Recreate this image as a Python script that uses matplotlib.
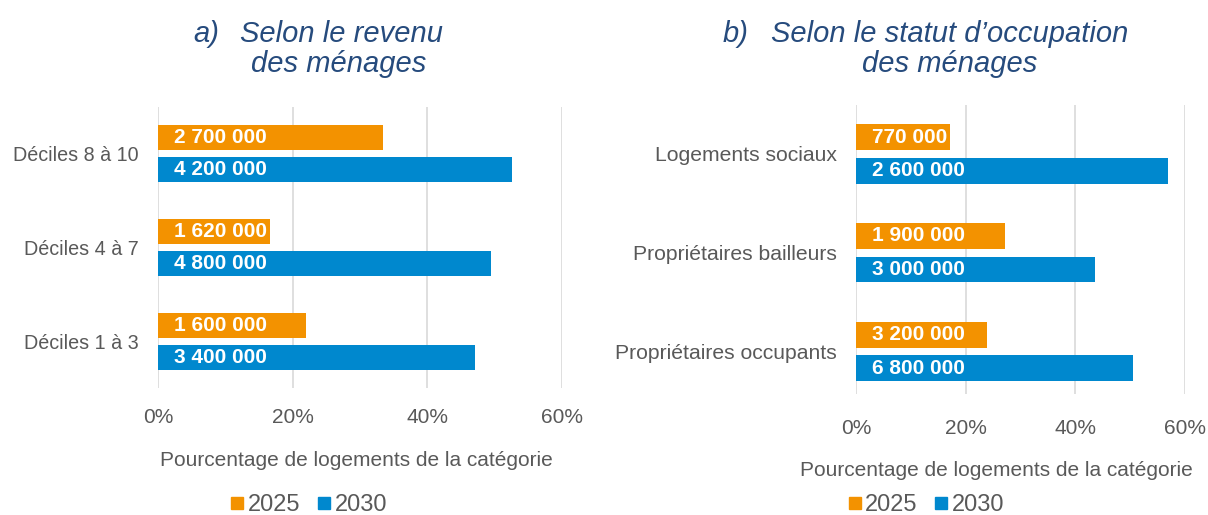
import matplotlib
matplotlib.use("Agg")
import matplotlib.pyplot as plt
from matplotlib.lines import Line2D
import numpy as np

plt.rcParams['font.family'] = ['Liberation Sans', 'DejaVu Sans']

# Panel a) : by household income
income_categories = ["Déciles 8 à 10", "Déciles 4 à 7", "Déciles 1 à 3"]
income_pct_2025 = [33.4, 16.6, 22.0]
income_pct_2030 = [52.5, 49.4, 47.1]
income_labels_2025 = ["2 700 000", "1 620 000", "1 600 000"]
income_labels_2030 = ["4 200 000", "4 800 000", "3 400 000"]

# Panel b) : by occupancy status
status_categories = ["Logements sociaux", "Propriétaires bailleurs", "Propriétaires occupants"]
status_pct_2025 = [17.1, 27.1, 23.9]
status_pct_2030 = [57.0, 43.6, 50.5]
status_labels_2025 = ["770 000", "1 900 000", "3 200 000"]
status_labels_2030 = ["2 600 000", "3 000 000", "6 800 000"]

series_names = ["2025", "2030"]
x_ticks = [0, 20, 40, 60]
x_tick_labels = ["0%", "20%", "40%", "60%"]
axis_label = "Pourcentage de logements de la catégorie"

ORANGE = "#F39200"
BLUE = "#0088CE"
GREY_TXT = "#595959"
GRID = "#D9D9D9"
TITLE_COL = "#264B7D"

W, H = 1208, 515
fig = plt.figure(figsize=(W / 100, H / 100), dpi=100)


def fx(px):
    return px / W


def fy(py):
    return 1 - py / H


def draw_panel(rect, cats, v25, v30, l25, l30, ylim, cat_size, xpad):
    ax = fig.add_axes(rect)
    pos = np.arange(len(cats))
    h = 0.26
    off = 0.17
    ax.barh(pos - off, v25, height=h, color=ORANGE, zorder=3)
    ax.barh(pos + off, v30, height=h, color=BLUE, zorder=3)
    for p, lab in zip(pos - off, l25):
        ax.annotate(lab, (0, p), xytext=(11.5, 0), textcoords="offset points",
                    ha="left", va="center", color="white", fontweight="bold",
                    fontsize=15, zorder=4)
    for p, lab in zip(pos + off, l30):
        ax.annotate(lab, (0, p), xytext=(11.5, 0), textcoords="offset points",
                    ha="left", va="center", color="white", fontweight="bold",
                    fontsize=15, zorder=4)
    ax.set_xlim(0, 60)
    ax.set_ylim(*ylim)
    ax.set_xticks(x_ticks)
    ax.set_xticklabels(x_tick_labels)
    ax.set_yticks(pos)
    ax.set_yticklabels(cats)
    ax.tick_params(axis="both", length=0, colors=GREY_TXT, labelsize=15)
    ax.tick_params(axis="y", pad=14, labelsize=cat_size)
    ax.tick_params(axis="x", pad=xpad)
    for s in ax.spines.values():
        s.set_visible(False)
    ax.grid(axis="x", color=GRID, linewidth=1.2, zorder=0)
    ax.set_axisbelow(True)
    return ax


ax1 = draw_panel([fx(158), fy(388.3), fx(562) - fx(158), (388.3 - 106.7) / H],
                 income_categories, income_pct_2025, income_pct_2030,
                 income_labels_2025, income_labels_2030, (2.5, -0.5), 14.2, 14)
ax2 = draw_panel([fx(856.3), fy(394), fx(1184.7) - fx(856.3), (394 - 105) / H],
                 status_categories, status_pct_2025, status_pct_2030,
                 status_labels_2025, status_labels_2030, (2.43, -0.496), 15.2, 18)

# Axis captions
fig.text(fx(356), fy(461), axis_label, ha="center", va="center", fontsize=15, color=GREY_TXT)
fig.text(fx(996), fy(470), axis_label, ha="center", va="center", fontsize=15, color=GREY_TXT)

# Panel titles
tkw = dict(fontsize=21, style="italic", color=TITLE_COL)
fig.text(fx(193), fy(42), "a)", ha="left", va="baseline", **tkw)
fig.text(fx(342), fy(42), "Selon le revenu", ha="center", va="baseline", **tkw)
fig.text(fx(339), fy(72), "des ménages", ha="center", va="baseline", **tkw)
fig.text(fx(723), fy(42), "b)", ha="left", va="baseline", **tkw)
fig.text(fx(950), fy(42), "Selon le statut d\u2019occupation", ha="center", va="baseline", **tkw)
fig.text(fx(950), fy(72), "des ménages", ha="center", va="baseline", **tkw)

# Legends
handles = [Line2D([], [], marker="s", linestyle="none", markersize=9, color=c)
           for c in (ORANGE, BLUE)]
for cx, cy in ((308.5, 505), (926, 505)):
    leg = fig.legend(handles, series_names, loc="center", bbox_to_anchor=(fx(cx), fy(cy)),
                     ncol=2, frameon=False, fontsize=17, handlelength=0.6,
                     handletextpad=0.15, columnspacing=0.7, borderpad=0)
    for t in leg.get_texts():
        t.set_color(GREY_TXT)

fig.savefig("out.png", dpi=100)
